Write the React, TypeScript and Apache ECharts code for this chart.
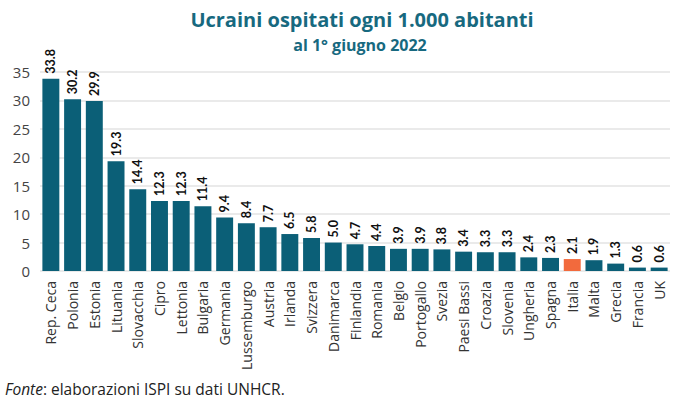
import React, { useEffect, useRef } from "react";
import * as echarts from "echarts";

const categories = [
  "Rep. Ceca", "Polonia", "Estonia", "Lituania", "Slovacchia", "Cipro", "Lettonia",
  "Bulgaria", "Germania", "Lussemburgo", "Austria", "Irlanda", "Svizzera", "Danimarca",
  "Finlandia", "Romania", "Belgio", "Portogallo", "Svezia", "Paesi Bassi", "Croazia",
  "Slovenia", "Ungheria", "Spagna", "Italia", "Malta", "Grecia", "Francia", "UK",
];
const values = [
  33.8, 30.2, 29.9, 19.3, 14.4, 12.3, 12.3, 11.4, 9.4, 8.4, 7.7, 6.5, 5.8, 5.0,
  4.7, 4.4, 3.9, 3.9, 3.8, 3.4, 3.3, 3.3, 2.4, 2.3, 2.1, 1.9, 1.3, 0.6, 0.6,
];
const highlighted = ["Italia"];

const FONT = "'Open Sans', Lato, sans-serif";
const BOLD_FONT = "Lato, 'Open Sans', sans-serif";
const TEAL = "#0b5f77";
const ORANGE = "#f26a3d";
const TITLE_COLOR = "#17697f";

export default function App() {
  const ref = useRef<HTMLDivElement>(null);
  useEffect(() => {
    if (!ref.current) return;
    const chart = echarts.init(ref.current, null, { renderer: "svg" });
    chart.setOption({
      animation: false,
      backgroundColor: "#ffffff",
      title: [
        {
          text: "Ucraini ospitati ogni 1.000 abitanti",
          left: 357,
          top: 4,
          textAlign: "center",
          textStyle: { fontFamily: FONT, fontSize: 20, fontWeight: "bold", color: TITLE_COLOR },
        },
        {
          text: "al 1° giugno 2022",
          left: 355,
          top: 32,
          textAlign: "center",
          textStyle: { fontFamily: FONT, fontSize: 16, fontWeight: "bold", color: TITLE_COLOR },
        },
      ],
      graphic: [
        {
          type: "text",
          left: 5,
          top: 381,
          style: {
            text: "{i|Fonte}: elaborazioni ISPI su dati UNHCR.",
            rich: {
              i: { fontStyle: "italic", fontFamily: FONT, fontSize: 15.5, fill: "#222" },
            },
            fontFamily: FONT,
            fontSize: 15.5,
            fill: "#222",
          },
        },
      ],
      grid: { left: 40, right: 10, top: 72, bottom: 132, containLabel: false },
      xAxis: {
        type: "category",
        data: categories,
        axisLine: { show: false },
        axisTick: { show: false },
        axisLabel: {
          rotate: 90,
          interval: 0,
          margin: 10,
          fontFamily: FONT,
          fontSize: 14,
          color: "#333",
        },
      },
      yAxis: {
        type: "value",
        min: 0,
        max: 35,
        interval: 5,
        axisLine: { show: false },
        axisTick: { show: false },
        splitLine: { lineStyle: { color: "#e3e3e3", width: 1.5 } },
        axisLabel: { fontFamily: FONT, fontSize: 15, color: "#444", margin: 10 },
      },
      series: [
        {
          type: "bar",
          data: values.map((v, i) => ({
            value: v,
            itemStyle: { color: highlighted.includes(categories[i]) ? ORANGE : TEAL },
          })),
          barCategoryGap: "22%",
          label: {
            show: true,
            position: "top",
            rotate: 90,
            align: "left",
            verticalAlign: "middle",
            distance: 5,
            formatter: (p: any) => Number(p.value).toFixed(1),
            fontFamily: BOLD_FONT,
            fontSize: 12.5,
            fontWeight: "bold",
            color: "#111",
          },
        },
      ],
    });
    return () => chart.dispose();
  }, []);
  return (
    <div
      ref={ref}
      style={{ position: "fixed", left: 0, top: 0, width: 680, height: 403 }}
    />
  );
}
